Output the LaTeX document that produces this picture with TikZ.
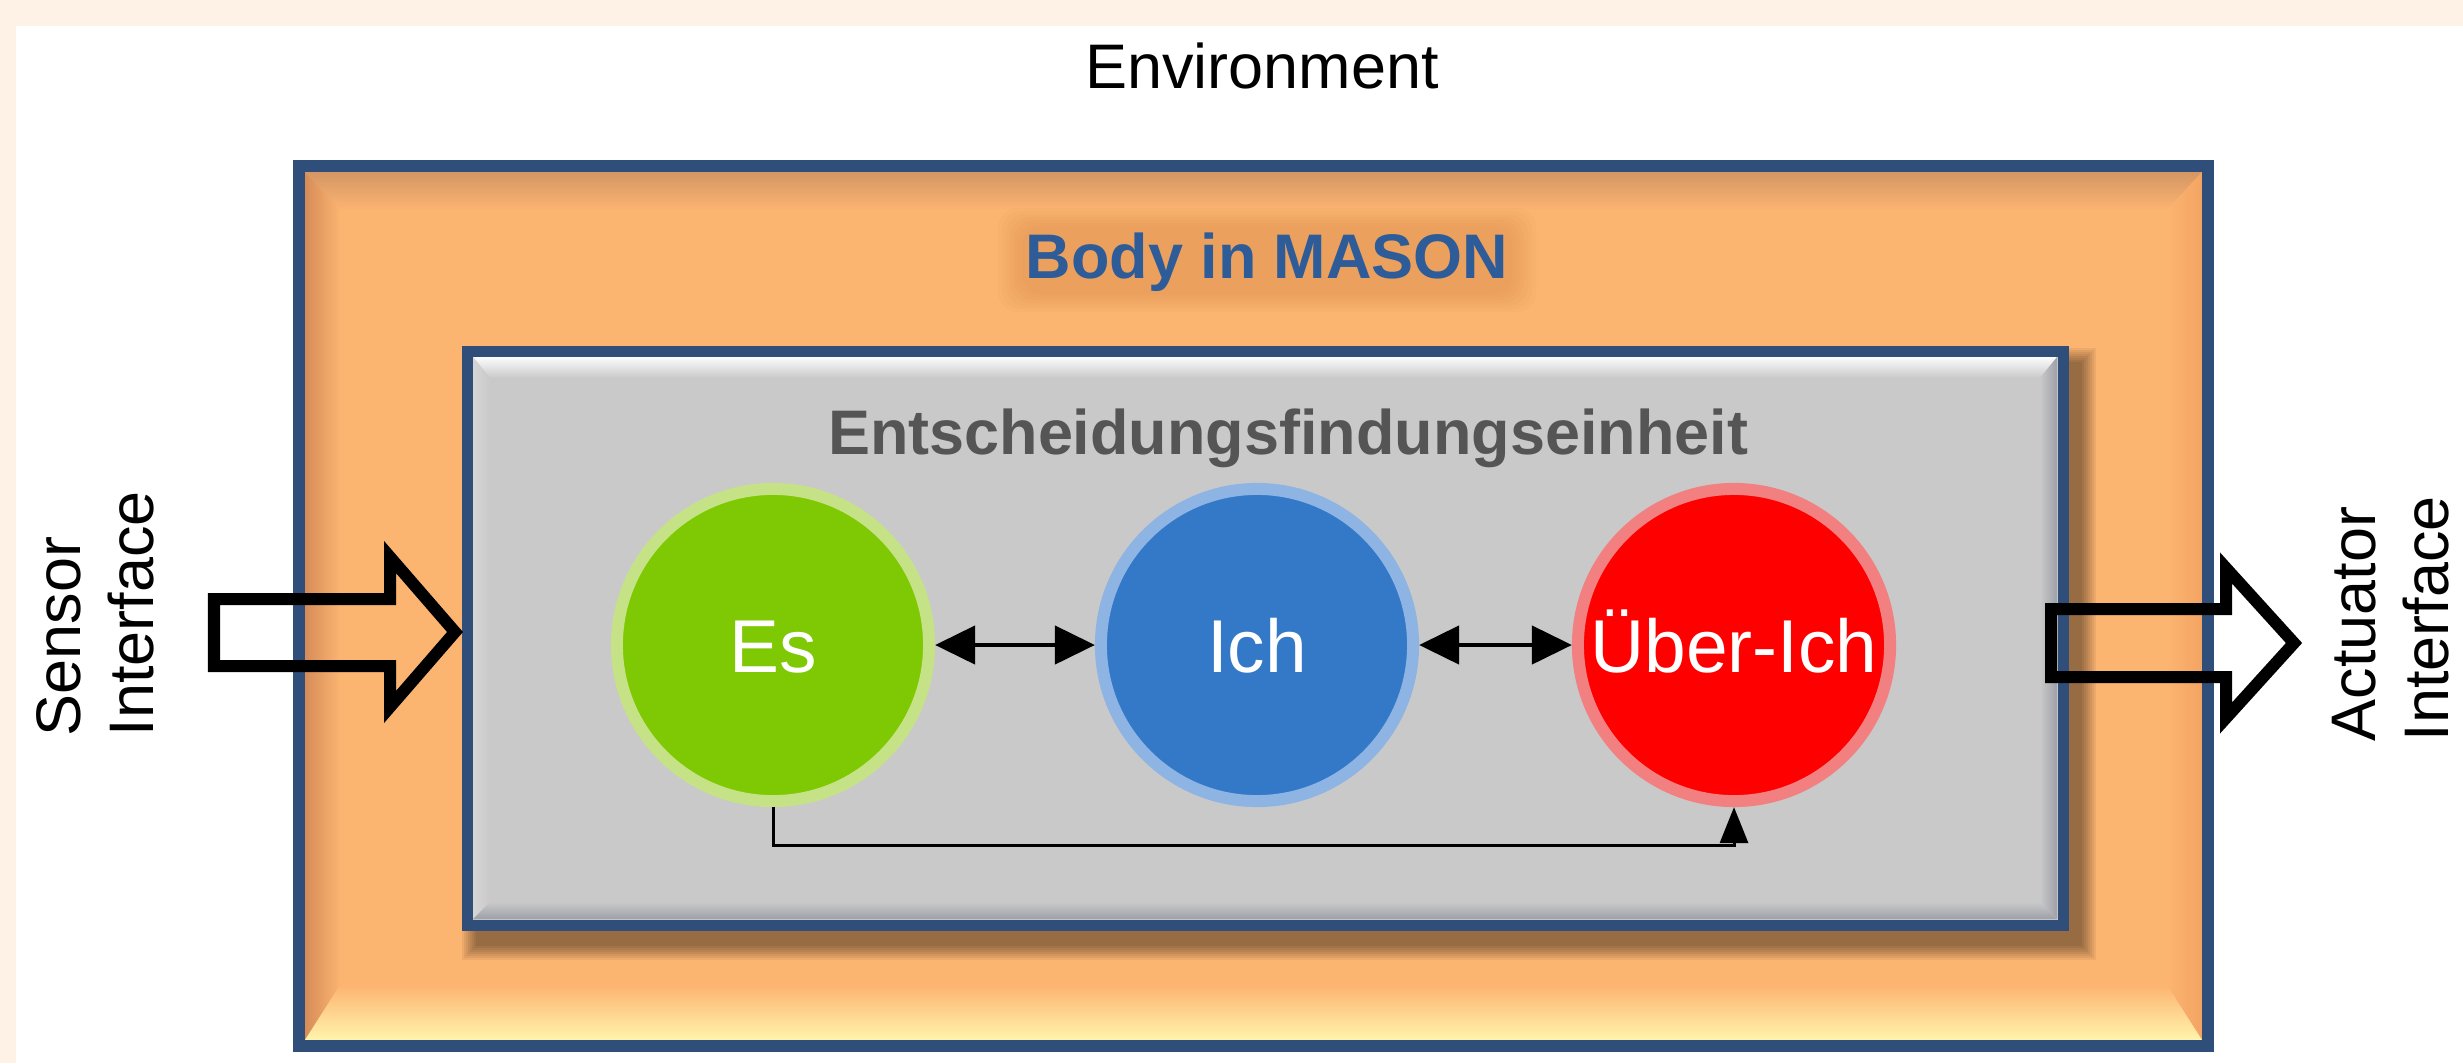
\documentclass[tikz,border=0pt]{standalone}
\usepackage{fontspec}
\setmainfont{Liberation Sans}
\usetikzlibrary{arrows.meta,calc}
\definecolor{peach}{RGB}{254,242,230}
\definecolor{bodyor}{RGB}{252,180,113}
\definecolor{bevtop}{RGB}{212,150,100}
\definecolor{bevleft}{RGB}{214,140,88}
\definecolor{bevbot}{RGB}{255,244,172}
\definecolor{bevright}{RGB}{244,164,98}
\definecolor{bordblue}{RGB}{47,79,122}
\definecolor{boxgray}{RGB}{201,201,201}
\definecolor{grayhi}{RGB}{252,252,252}
\definecolor{grayleft}{RGB}{214,214,214}
\definecolor{graylow}{RGB}{158,160,168}
\definecolor{titleblue}{RGB}{46,92,152}
\definecolor{dmgray}{RGB}{85,85,85}
\definecolor{glowor}{RGB}{205,125,60}
\definecolor{esgreen}{RGB}{126,200,4}
\definecolor{esglow}{RGB}{198,226,134}
\definecolor{ichblue}{RGB}{52,120,200}
\definecolor{ichring}{RGB}{142,180,227}
\definecolor{uired}{RGB}{255,0,0}
\definecolor{uiring}{RGB}{242,128,128}
\begin{document}
\begin{tikzpicture}[x=0.01cm,y=-0.01cm,
  lbl/.style={font=\fontsize{17.9}{20.7}\selectfont, inner sep=0},
  hdr/.style={font=\bfseries\fontsize{17.9}{20.7}\selectfont, inner sep=0},
  ball/.style={circle, minimum size=3.12cm, line width=0.12cm, inner sep=0,
    text=white, font=\fontsize{21.3}{24}\selectfont, text height=0.54cm, text depth=0pt},
  dbl/.style={{Triangle[length=0.4cm,width=0.38cm]}-{Triangle[length=0.4cm,width=0.38cm]}, line width=0.045cm},
  blockarrow/.style={draw=black, line width=0.12cm, miter limit=10}
]
\useasboundingbox (0,0) rectangle (2463,1063);
\fill[peach] (0,0) rectangle (2463,1063);
\fill[white] (16,26) rectangle (2463,1063);

% outer body box with bevel
\fill[bodyor] (299,166) rectangle (2208,1046);
\shade[top color=bevtop, bottom color=bodyor] (305,172) -- (2202,172) -- (2167,210) -- (340,210) -- cycle;
\shade[left color=bevleft, right color=bodyor] (305,172) -- (340,210) -- (340,985) -- (305,1040) -- cycle;
\shade[left color=bodyor, right color=bevright] (2202,172) -- (2167,210) -- (2167,985) -- (2202,1040) -- cycle;
\shade[top color=bodyor, bottom color=bevbot] (305,1040) -- (340,985) -- (2167,985) -- (2202,1040) -- cycle;
\draw[bordblue, line width=0.12cm] (299,166) rectangle (2208,1046);

% soft glow behind the body title
\foreach \i in {0,...,6}
  \fill[glowor, opacity=0.05, rounded corners=0.2cm] (1022-\i*4,226-\i*3) rectangle (1512+\i*4,294+\i*3);

% soft shadow of the inner box
\foreach \i in {0,...,7}
  \fill[black, opacity=0.06] (476-\i*2,362-\i*2) rectangle (2082+\i*2,946+\i*2);

% inner decision box with bevel
\fill[boxgray] (467,351) rectangle (2063,925);
\shade[top color=grayhi, bottom color=boxgray] (473,357) -- (2057,357) -- (2040,378) -- (490,378) -- cycle;
\shade[left color=grayleft, right color=boxgray] (473,357) -- (490,378) -- (490,902) -- (473,919) -- cycle;
\shade[left color=boxgray, right color=graylow] (2057,357) -- (2040,378) -- (2040,902) -- (2057,919) -- cycle;
\shade[top color=boxgray, bottom color=graylow] (473,919) -- (490,902) -- (2040,902) -- (2057,919) -- cycle;
\draw[bordblue, line width=0.11cm] (467,351) rectangle (2063,925);

% titles
\node[lbl, anchor=base] (env) at (1262,88) {Environment};
\node[hdr, anchor=base, text=titleblue] (bodytitle) at (1267,278) {Body in MASON};
\node[hdr, anchor=base, text=dmgray] (dmtitle) at (1288,454) {Entscheidungsfindungseinheit};

% instances
\node[ball, fill=esgreen, draw=esglow] (es) at (773,645) {Es};
\node[ball, fill=ichblue, draw=ichring] (ich) at (1257,645) {Ich};
\node[ball, fill=uired, draw=uiring] (ui) at (1734,645) {Über-Ich};

\draw[dbl] (es) -- (ich);
\draw[dbl] (ich) -- (ui);
\draw[line width=0.03cm, -{Triangle[length=0.36cm,width=0.28cm]}] (es.south) -- ++(0,38) -| (ui.south);

% interfaces
\draw[blockarrow] (214,599) -- (390,599) -- (390,557) -- (455,632) -- (390,707) -- (390,666) -- (214,666) -- cycle;
\draw[blockarrow] (2051,609) -- (2226,609) -- (2226,568) -- (2294,643) -- (2226,718) -- (2226,677) -- (2051,677) -- cycle;
\node[lbl, rotate=90, anchor=west, align=left] (sensor) at (95,737) {Sensor\\Interface};
\node[lbl, rotate=90, anchor=west, align=left] (actuator) at (2391,742) {Actuator\\Interface};
\end{tikzpicture}
\end{document}
